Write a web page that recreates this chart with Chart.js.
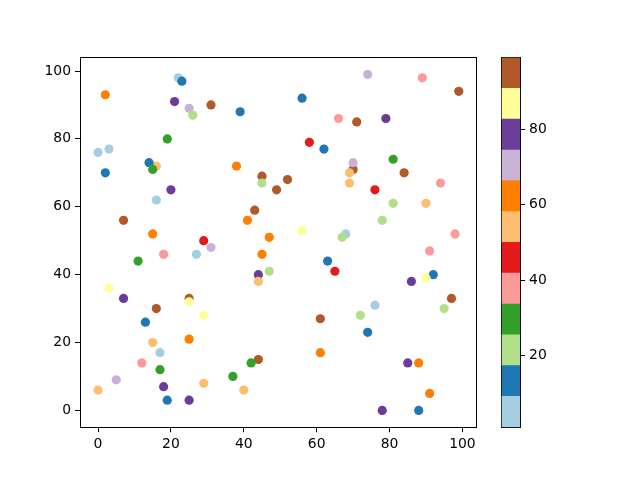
<!DOCTYPE html>
<html lang="en">
<head>
<meta charset="UTF-8">
<title>Scatter with colorbar</title>
<script src="https://cdn.jsdelivr.net/npm/chart.js"></script>
<style>
    body { margin: 0; background: #fff; }
    #wrap { position: relative; width: 640px; height: 480px; }
    #main { position: absolute; left: 0; top: 0; }
    #cbar { position: absolute; left: 490px; top: 0; }
</style>
</head>
<body>
<div id="wrap">
    <canvas id="main" width="640" height="480"></canvas>
    <canvas id="cbar" width="150" height="480"></canvas>
</div>
<script>
// point data, in drawing order (later points sit on top)
const xVals = [22, 23, 2, 21, 31, 25, 26, 19, 0, 3, 16, 14, 15, 2, 39, 56, 66, 58, 62, 38,
               45, 45, 52, 74, 89, 99, 71, 79, 81, 70, 70, 69, 84, 94, 69, 20, 16, 7, 15, 29,
               31, 18, 27, 11, 3, 7, 25, 25, 49, 43, 41, 56, 68, 67, 47, 45, 63, 65, 47, 44,
               44, 76, 81, 90, 78, 98, 91, 92, 90, 86, 97, 76, 16, 29, 13, 15, 25, 17, 12, 17,
               5, 0, 18, 29, 19, 25, 61, 61, 44, 42, 37, 40, 72, 95, 74, 85, 88, 91, 78, 88];
const yVals = [98, 97, 93, 91, 90, 89, 87, 80, 76, 77, 72, 73, 71, 70, 88, 92, 86, 79, 77, 72,
               69, 67, 68, 99, 98, 94, 85, 86, 74, 71, 73, 70, 70, 67, 67, 65, 62, 56, 52, 50,
               48, 46, 46, 44, 36, 33, 33, 32, 65, 59, 56, 53, 52, 51, 51, 46, 44, 41, 41, 40,
               38, 65, 61, 61, 56, 52, 47, 40, 39, 38, 33, 31, 30, 28, 26, 20, 21, 17, 14, 12,
               9, 6, 7, 8, 3, 3, 27, 17, 15, 14, 10, 6, 28, 30, 23, 14, 14, 5, 0, 0];
const cVals = [5, 13, 62, 79, 95, 70, 21, 30, 5, 5, 54, 13, 30, 13, 13, 13, 38, 46, 13, 62,
               95, 21, 95, 70, 38, 95, 95, 79, 30, 95, 70, 54, 95, 38, 54, 79, 5, 95, 62, 46,
               70, 38, 5, 30, 87, 79, 95, 87, 95, 95, 62, 87, 5, 21, 62, 62, 13, 46, 21, 79,
               54, 46, 21, 54, 21, 38, 38, 13, 87, 79, 95, 5, 95, 87, 13, 54, 62, 5, 38, 30,
               70, 54, 79, 54, 13, 79, 95, 62, 95, 30, 30, 54, 21, 21, 13, 79, 62, 62, 79, 13];

const xTicks = [0, 20, 40, 60, 80, 100];
const yTicks = [0, 20, 40, 60, 80, 100];
const cbarTicks = [20, 40, 60, 80];
const cMin = 1;
const cMax = 99;

// matplotlib "Paired"
const paired = ['#a6cee3', '#1f78b4', '#b2df8a', '#33a02c', '#fb9a99', '#e31a1c',
                '#fdbf6f', '#ff7f00', '#cab2d6', '#6a3d9a', '#ffff99', '#b15928'];

function colorFor(c) {
    let i = Math.floor((c - cMin) / (cMax - cMin) * paired.length);
    i = Math.min(Math.max(i, 0), paired.length - 1);
    return paired[i];
}

Chart.defaults.font.family = 'DejaVu Sans';
Chart.defaults.font.size = 13.9;
Chart.defaults.color = '#000';

const setTicks = list => scale => { scale.ticks = list.map(v => ({ value: v })); };

// axis that only draws a spine
function spine(position, extra) {
    return Object.assign({
        position: position,
        display: true,
        ticks: { display: false },
        grid: { drawOnChartArea: false, drawTicks: false },
        border: { color: '#000', width: 1 },
        afterFit: s => {
            if (position === 'top' || position === 'bottom') s.height = 0; else s.width = 0;
        }
    }, extra);
}

new Chart(document.getElementById('main'), {
    type: 'scatter',
    data: {
        datasets: [{
            data: xVals.map((x, i) => ({ x: x, y: yVals[i] })),
            backgroundColor: cVals.map(colorFor),
            borderWidth: 0,
            pointRadius: 4.6,
            pointHoverRadius: 4.6
        }]
    },
    options: {
        responsive: false,
        animation: false,
        events: [],
        plugins: { legend: { display: false }, tooltip: { enabled: false } },
        layout: { padding: { left: 30, top: 57.6, right: 163.2, bottom: 22.8 } },
        scales: {
            x: {
                type: 'linear',
                position: 'bottom',
                min: -4.95,
                max: 103.95,
                afterBuildTicks: setTicks(xTicks),
                afterFit: s => { s.height = 30; },
                ticks: { padding: 4, maxRotation: 0 },
                grid: { drawOnChartArea: false, tickLength: 5, tickColor: '#000' },
                border: { color: '#000', width: 1 }
            },
            y: {
                type: 'linear',
                position: 'left',
                min: -4.95,
                max: 103.95,
                afterBuildTicks: setTicks(yTicks),
                afterFit: s => { s.width = 50; },
                ticks: { padding: 4 },
                grid: { drawOnChartArea: false, tickLength: 5, tickColor: '#000' },
                border: { color: '#000', width: 1 }
            },
            xTop: spine('top', { type: 'linear', min: -4.95, max: 103.95 }),
            yRight: spine('right', { type: 'linear', min: -4.95, max: 103.95 })
        }
    }
});

// colorbar: one floating bar per colour band
const bandEdges = paired.map((_, i) => cMin + (cMax - cMin) * i / paired.length).concat([cMax]);

new Chart(document.getElementById('cbar'), {
    type: 'bar',
    data: {
        labels: [''],
        datasets: paired.map((col, i) => ({
            data: [[bandEdges[i], bandEdges[i + 1]]],
            backgroundColor: col,
            borderWidth: 0,
            grouped: false,
            barPercentage: 1,
            categoryPercentage: 1
        }))
    },
    options: {
        responsive: false,
        animation: false,
        events: [],
        plugins: { legend: { display: false }, tooltip: { enabled: false } },
        layout: { padding: { left: 11.6, top: 57.6, right: 79.9, bottom: 52.8 } },
        scales: {
            x: spine('bottom', { type: 'category' }),
            xTop: spine('top', { type: 'category' }),
            yLeft: spine('left', { type: 'linear', min: cMin, max: cMax }),
            y: {
                type: 'linear',
                position: 'right',
                min: cMin,
                max: cMax,
                afterBuildTicks: setTicks(cbarTicks),
                afterFit: s => { s.width = 40; },
                ticks: { padding: 4 },
                grid: { drawOnChartArea: false, tickLength: 5, tickColor: '#000' },
                border: { color: '#000', width: 1 }
            }
        }
    }
});
</script>
</body>
</html>
